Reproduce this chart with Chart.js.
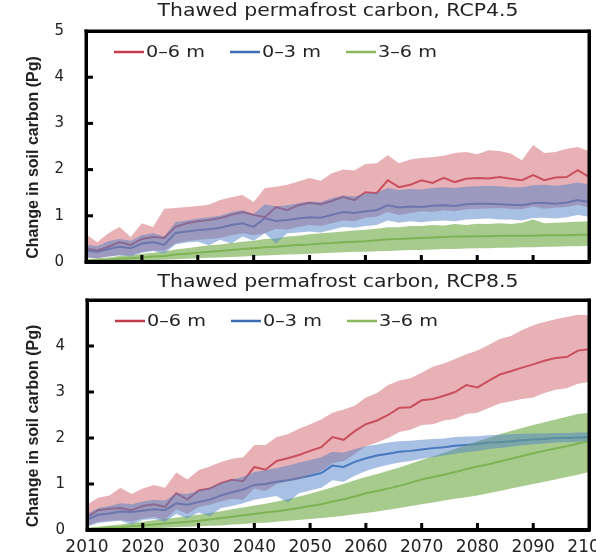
<!DOCTYPE html>
<html>
<head>
<meta charset="utf-8">
<script src="https://cdn.jsdelivr.net/npm/chart.js@4.4.1/dist/chart.umd.min.js"></script>
<style>
  html, body { margin: 0; padding: 0; background: #fff; overflow: hidden; }
  #wrap { position: relative; width: 596px; height: 558px; overflow: hidden; }
  canvas { position: absolute; left: 0; }
  #top { top: 0; }
  #bottom { top: 270px; }
  .box { position: absolute; border: 3px solid #000; pointer-events: none; }
  #boxTop { left: 85px; top: 30px; width: 500px; height: 227px; }
  #boxBottom { left: 86px; top: 299px; width: 499px; height: 226px; }
</style>
</head>
<body>
<div id="wrap">
  <canvas id="top" width="596" height="270"></canvas>
  <canvas id="bottom" width="596" height="288"></canvas>
  <div class="box" id="boxTop"></div>
  <div class="box" id="boxBottom"></div>
</div>
<script>
// every second year, 2010-2100
const years = [2010, 2012, 2014, 2016, 2018, 2020, 2022, 2024, 2026, 2028,
  2030, 2032, 2034, 2036, 2038, 2040, 2042, 2044, 2046, 2048,
  2050, 2052, 2054, 2056, 2058, 2060, 2062, 2064, 2066, 2068,
  2070, 2072, 2074, 2076, 2078, 2080, 2082, 2084, 2086, 2088,
  2090, 2092, 2094, 2096, 2098, 2100];

const xTickValues = [2010, 2020, 2030, 2040, 2050, 2060, 2070, 2080, 2090, 2100];
const yTicksTop = [0, 1, 2, 3, 4, 5];
const yTicksBottom = [0, 1, 2, 3, 4];
const seriesLabels = ['0\u20136 m', '0\u20133 m', '3\u20136 m'];
const panelTitles = ['Thawed permafrost carbon, RCP4.5', 'Thawed permafrost carbon, RCP8.5'];
const yTitle = 'Change in soil carbon (Pg)';

// RCP4.5
const r45Red = [0.30, 0.25, 0.33, 0.43, 0.37, 0.50, 0.54, 0.52, 0.76, 0.84,
  0.88, 0.91, 0.95, 1.02, 1.08, 1.02, 0.97, 1.19, 1.12, 1.23,
  1.28, 1.25, 1.32, 1.41, 1.34, 1.51, 1.49, 1.77, 1.62, 1.67,
  1.77, 1.71, 1.82, 1.73, 1.80, 1.82, 1.81, 1.84, 1.80, 1.77,
  1.88, 1.77, 1.83, 1.84, 1.99, 1.84];
const r45RedHi = [0.60, 0.43, 0.62, 0.76, 0.54, 0.84, 0.76, 1.15, 1.17, 1.19,
  1.21, 1.24, 1.34, 1.40, 1.45, 1.30, 1.60, 1.63, 1.67, 1.74,
  1.82, 1.76, 1.92, 2.00, 1.98, 2.12, 2.14, 2.31, 2.14, 2.22,
  2.25, 2.27, 2.30, 2.36, 2.38, 2.33, 2.42, 2.40, 2.35, 2.20,
  2.53, 2.36, 2.38, 2.45, 2.49, 2.40];
const r45RedLo = [0.10, 0.08, 0.12, 0.15, 0.14, 0.22, 0.25, 0.24, 0.40, 0.45,
  0.48, 0.50, 0.52, 0.58, 0.62, 0.58, 0.62, 0.72, 0.70, 0.76,
  0.80, 0.78, 0.84, 0.90, 0.88, 0.96, 0.98, 1.08, 1.02, 1.06,
  1.10, 1.08, 1.12, 1.10, 1.14, 1.15, 1.16, 1.17, 1.15, 1.14,
  1.20, 1.15, 1.18, 1.19, 1.24, 1.18];
const r45Blue = [0.25, 0.22, 0.28, 0.33, 0.30, 0.40, 0.43, 0.37, 0.63, 0.66,
  0.69, 0.71, 0.74, 0.80, 0.84, 0.76, 0.95, 0.89, 0.91, 0.94,
  0.97, 0.96, 1.02, 1.08, 1.06, 1.10, 1.12, 1.23, 1.18, 1.20,
  1.19, 1.22, 1.23, 1.21, 1.25, 1.26, 1.26, 1.25, 1.24, 1.23,
  1.27, 1.28, 1.26, 1.29, 1.34, 1.30];
const r45BlueHi = [0.38, 0.34, 0.45, 0.50, 0.46, 0.58, 0.62, 0.55, 0.86, 0.90,
  0.94, 0.97, 1.00, 1.08, 1.12, 1.04, 1.25, 1.20, 1.23, 1.27,
  1.31, 1.30, 1.38, 1.44, 1.42, 1.48, 1.50, 1.60, 1.56, 1.58,
  1.57, 1.60, 1.62, 1.60, 1.63, 1.64, 1.65, 1.64, 1.62, 1.62,
  1.66, 1.67, 1.65, 1.68, 1.72, 1.68];
const r45BlueLo = [0.10, 0.08, 0.12, 0.14, 0.12, 0.20, 0.24, 0.18, 0.38, 0.42,
  0.44, 0.36, 0.48, 0.40, 0.55, 0.46, 0.62, 0.40, 0.62, 0.64,
  0.66, 0.64, 0.70, 0.76, 0.74, 0.78, 0.80, 0.90, 0.85, 0.88,
  0.86, 0.89, 0.90, 0.88, 0.92, 0.93, 0.94, 0.92, 0.92, 0.90,
  0.95, 0.96, 0.94, 0.97, 1.02, 0.98];
const r45Green = [0.03, 0.04, 0.05, 0.07, 0.08, 0.10, 0.12, 0.13, 0.16, 0.18,
  0.20, 0.22, 0.24, 0.26, 0.28, 0.30, 0.32, 0.33, 0.35, 0.37,
  0.38, 0.40, 0.41, 0.43, 0.44, 0.45, 0.47, 0.49, 0.50, 0.51,
  0.52, 0.53, 0.54, 0.55, 0.55, 0.56, 0.56, 0.57, 0.57, 0.57,
  0.57, 0.58, 0.58, 0.58, 0.59, 0.59];
const r45GreenHi = [0.06, 0.08, 0.10, 0.13, 0.14, 0.18, 0.20, 0.22, 0.27, 0.30,
  0.33, 0.36, 0.38, 0.41, 0.44, 0.46, 0.50, 0.51, 0.55, 0.57,
  0.60, 0.62, 0.64, 0.66, 0.68, 0.70, 0.72, 0.75, 0.75, 0.78,
  0.78, 0.80, 0.79, 0.82, 0.80, 0.83, 0.82, 0.84, 0.82, 0.85,
  0.92, 0.84, 0.85, 0.86, 0.87, 0.88];
const r45GreenLo = [0.00, 0.00, 0.01, 0.02, 0.02, 0.03, 0.04, 0.05, 0.06, 0.07,
  0.08, 0.09, 0.10, 0.11, 0.12, 0.13, 0.14, 0.15, 0.16, 0.17,
  0.18, 0.19, 0.20, 0.21, 0.22, 0.22, 0.23, 0.24, 0.25, 0.26,
  0.26, 0.27, 0.28, 0.28, 0.29, 0.30, 0.30, 0.31, 0.31, 0.32,
  0.32, 0.33, 0.33, 0.34, 0.34, 0.35];

// RCP8.5
const r85Red = [0.28, 0.43, 0.46, 0.48, 0.43, 0.52, 0.56, 0.50, 0.80, 0.66,
  0.86, 0.90, 1.02, 1.09, 1.06, 1.37, 1.31, 1.50, 1.56, 1.63,
  1.72, 1.80, 2.02, 1.96, 2.15, 2.30, 2.38, 2.50, 2.66, 2.67,
  2.82, 2.85, 2.92, 3.00, 3.15, 3.10, 3.24, 3.38, 3.45, 3.53,
  3.60, 3.68, 3.74, 3.76, 3.90, 3.93];
const r85RedHi = [0.55, 0.70, 0.75, 0.92, 0.78, 0.90, 0.98, 0.92, 1.25, 1.10,
  1.30, 1.38, 1.48, 1.55, 1.58, 1.85, 1.85, 2.02, 2.08, 2.20,
  2.30, 2.40, 2.55, 2.62, 2.70, 2.88, 2.98, 3.15, 3.25, 3.30,
  3.42, 3.55, 3.62, 3.72, 3.82, 3.90, 4.02, 4.15, 4.22, 4.35,
  4.45, 4.52, 4.58, 4.63, 4.68, 4.67];
const r85RedLo = [0.08, 0.18, 0.20, 0.22, 0.18, 0.25, 0.28, 0.22, 0.45, 0.35,
  0.50, 0.55, 0.62, 0.68, 0.66, 0.90, 0.85, 1.00, 1.06, 1.10,
  1.20, 1.28, 1.45, 1.50, 1.65, 1.82, 1.90, 2.00, 2.13, 2.18,
  2.28, 2.30, 2.38, 2.42, 2.52, 2.55, 2.65, 2.75, 2.80, 2.85,
  2.88, 2.98, 3.05, 3.08, 3.18, 3.22];
const r85Blue = [0.22, 0.33, 0.36, 0.40, 0.39, 0.42, 0.45, 0.43, 0.58, 0.55,
  0.61, 0.66, 0.75, 0.82, 0.88, 0.98, 1.00, 1.05, 1.08, 1.13,
  1.18, 1.24, 1.40, 1.37, 1.48, 1.56, 1.62, 1.66, 1.70, 1.72,
  1.75, 1.78, 1.80, 1.83, 1.85, 1.87, 1.90, 1.91, 1.93, 1.95,
  1.97, 1.98, 2.00, 2.00, 2.01, 2.02];
const r85BlueHi = [0.35, 0.48, 0.52, 0.58, 0.56, 0.62, 0.66, 0.64, 0.80, 0.78,
  0.86, 0.92, 1.02, 1.10, 1.16, 1.26, 1.30, 1.35, 1.40, 1.46,
  1.52, 1.58, 1.70, 1.68, 1.76, 1.82, 1.86, 1.90, 1.93, 1.94,
  1.96, 1.98, 1.99, 2.02, 2.03, 2.04, 2.06, 2.07, 2.08, 2.09,
  2.10, 2.10, 2.11, 2.11, 2.12, 2.12];
const r85BlueLo = [0.08, 0.15, 0.18, 0.20, 0.12, 0.22, 0.24, 0.18, 0.35, 0.25,
  0.38, 0.30, 0.48, 0.52, 0.58, 0.66, 0.70, 0.74, 0.60, 0.80,
  0.86, 0.92, 1.08, 1.05, 1.18, 1.28, 1.36, 1.42, 1.47, 1.50,
  1.55, 1.58, 1.62, 1.66, 1.69, 1.72, 1.76, 1.78, 1.81, 1.84,
  1.86, 1.88, 1.90, 1.91, 1.92, 1.94];
const r85Green = [0.02, 0.03, 0.05, 0.06, 0.08, 0.10, 0.12, 0.14, 0.16, 0.18,
  0.20, 0.23, 0.26, 0.29, 0.32, 0.35, 0.38, 0.41, 0.44, 0.48,
  0.52, 0.56, 0.62, 0.67, 0.73, 0.80, 0.85, 0.90, 0.96, 1.03,
  1.10, 1.15, 1.20, 1.26, 1.32, 1.38, 1.43, 1.49, 1.55, 1.61,
  1.67, 1.72, 1.77, 1.82, 1.88, 1.93];
const r85GreenHi = [0.05, 0.07, 0.10, 0.12, 0.15, 0.18, 0.21, 0.24, 0.27, 0.30,
  0.33, 0.37, 0.41, 0.45, 0.49, 0.53, 0.57, 0.62, 0.67, 0.73,
  0.79, 0.86, 0.93, 1.00, 1.08, 1.15, 1.22, 1.29, 1.36, 1.44,
  1.52, 1.60, 1.68, 1.76, 1.85, 1.93, 2.00, 2.08, 2.15, 2.22,
  2.28, 2.34, 2.40, 2.46, 2.52, 2.55];
const r85GreenLo = [0.00, 0.00, 0.00, 0.01, 0.02, 0.03, 0.04, 0.05, 0.06, 0.07,
  0.08, 0.09, 0.10, 0.12, 0.13, 0.15, 0.16, 0.18, 0.20, 0.22,
  0.24, 0.26, 0.28, 0.31, 0.34, 0.37, 0.40, 0.44, 0.48, 0.52,
  0.56, 0.60, 0.64, 0.68, 0.71, 0.75, 0.80, 0.85, 0.90, 0.95,
  1.00, 1.05, 1.10, 1.15, 1.20, 1.26];

const lineColors = ['#c23b4c', '#3f6db3', '#8ab85c'];
const bandColors = ['rgba(210, 100, 110, 0.5)', 'rgba(80, 130, 200, 0.5)', 'rgba(120, 175, 80, 0.65)'];
const frameColor = '#000';

// frame, inward ticks, panel title, inner legend, y title
const panelDecor = {
  id: 'panelDecor',
  afterDatasetsDraw(chart) {
    const { ctx, chartArea: a, scales: { x, y } } = chart;
    ctx.save();
    ctx.fillStyle = frameColor;
    const w = a.right - a.left, h = a.bottom - a.top;
    ctx.fillRect(a.left - 1.5, a.top - 1.5, w + 3, 3);
    ctx.fillRect(a.left - 1.5, a.bottom - 1.5, w + 3, 3);
    ctx.fillRect(a.left - 1.5, a.top - 1.5, 3, h + 3);
    ctx.fillRect(a.right - 1.5, a.top - 1.5, 3, h + 3);
    xTickValues.slice(1, -1).forEach(v => {
      const px = x.getPixelForValue(v);
      ctx.fillRect(px - 1.5, a.bottom - 7, 3, 7);
    });
    [1, 2, 3, 4].forEach(v => {
      const py = y.getPixelForValue(v);
      ctx.fillRect(a.left, py - 1.5, 7, 3);
    });
    ctx.restore();
  },
  afterDraw(chart, args, opts) {
    const { ctx, chartArea: a } = chart;

    // title, stretched a little like the source image
    ctx.save();
    ctx.fillStyle = '#222';
    ctx.textBaseline = 'middle';
    ctx.textAlign = 'center';
    ctx.font = '17px "DejaVu Sans"';
    ctx.translate(338, opts.titleY);
    ctx.scale(1.2, 1);
    ctx.fillText(opts.title, 0, 0);
    ctx.restore();

    // legend from the mean-line datasets
    const ly = a.top + 21;
    chart.data.datasets.filter(d => d.label).forEach((d, i) => {
      const lx = a.left + 28 + i * 116;
      ctx.save();
      ctx.strokeStyle = d.borderColor;
      ctx.lineWidth = 2.5;
      ctx.beginPath();
      ctx.moveTo(lx, ly);
      ctx.lineTo(lx + 30, ly);
      ctx.stroke();
      ctx.fillStyle = '#222';
      ctx.textBaseline = 'middle';
      ctx.textAlign = 'left';
      ctx.font = '16px "DejaVu Sans"';
      ctx.translate(lx + 32, ly + 1);
      ctx.scale(1.2, 1);
      ctx.fillText(d.label, 0, 0);
      ctx.restore();
    });

    ctx.save();
    ctx.fillStyle = '#222';
    ctx.textBaseline = 'middle';
    ctx.textAlign = 'center';
    ctx.translate(34, (a.top + a.bottom) / 2 + 11);
    ctx.rotate(-Math.PI / 2);
    ctx.font = 'bold 16px "Liberation Sans Narrow", "Liberation Sans", sans-serif';
    ctx.fillText(yTitle, 0, 0);
    ctx.restore();
  }
};

function makeDatasets(lows, highs, means) {
  const bands = [];
  // blue band listed first so it is filled on top of the red one
  [1, 0, 2].forEach(i => {
    bands.push({ data: lows[i], borderWidth: 0, pointRadius: 0, fill: false });
    bands.push({ data: highs[i], borderWidth: 0, pointRadius: 0, fill: '-1', backgroundColor: bandColors[i] });
  });
  const lines = means.map((m, i) => ({
    label: seriesLabels[i],
    data: m,
    borderColor: lineColors[i],
    borderWidth: 2,
    pointRadius: 0,
    tension: 0,
    fill: false
  }));
  return bands.concat(lines);
}

function buildChart(id, o) {
  return new Chart(document.getElementById(id), {
    type: 'line',
    data: { labels: years, datasets: makeDatasets(o.lows, o.highs, o.means) },
    options: {
      responsive: false,
      animation: false,
      layout: { padding: { top: o.padTop, right: 7, bottom: o.padBottom, left: 0 } },
      plugins: {
        legend: { display: false },
        tooltip: { enabled: false },
        panelDecor: { title: o.title, titleY: o.titleY }
      },
      scales: {
        x: {
          type: 'linear',
          min: 2010,
          max: 2100,
          grid: { display: false, drawTicks: false },
          border: { display: true, color: frameColor, width: 3 },
          afterBuildTicks: s => { s.ticks = xTickValues.map(v => ({ value: v })); },
          afterFit: s => { s.height = o.showX ? 28 : 0; s.paddingLeft = 0; s.paddingRight = 0; },
          ticks: {
            display: o.showX,
            color: '#222',
            font: { family: 'DejaVu Sans', size: 17 },
            padding: 7,
            maxRotation: 0,
            autoSkip: false,
            callback: v => String(v)
          }
        },
        y: {
          min: 0,
          max: 5,
          grid: { display: false, drawTicks: false },
          border: { display: true, color: frameColor, width: 3 },
          afterBuildTicks: s => { s.ticks = o.yTicks.map(v => ({ value: v })); },
          afterFit: s => { s.width = o.axisLeft; s.paddingTop = 0; s.paddingBottom = 0; },
          ticks: {
            color: '#222',
            font: { family: 'DejaVu Sans', size: 15 },
            padding: 22,
            callback: v => String(v)
          }
        }
      }
    },
    plugins: [panelDecor]
  });
}

buildChart('top', {
  title: panelTitles[0], titleY: 12, padTop: 31, padBottom: 8, axisLeft: 86, showX: false,
  yTicks: yTicksTop,
  lows: [r45RedLo, r45BlueLo, r45GreenLo],
  highs: [r45RedHi, r45BlueHi, r45GreenHi],
  means: [r45Red, r45Blue, r45Green]
});

buildChart('bottom', {
  title: panelTitles[1], titleY: 13, padTop: 30, padBottom: 0, axisLeft: 87, showX: true,
  yTicks: yTicksBottom,
  lows: [r85RedLo, r85BlueLo, r85GreenLo],
  highs: [r85RedHi, r85BlueHi, r85GreenHi],
  means: [r85Red, r85Blue, r85Green]
});
</script>
</body>
</html>
